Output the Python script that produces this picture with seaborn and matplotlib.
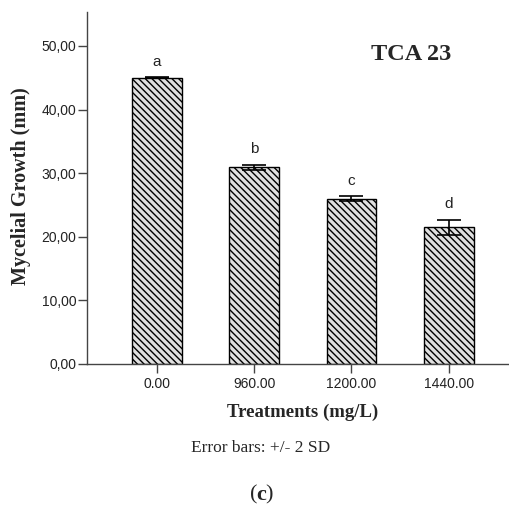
import matplotlib
matplotlib.use("Agg")
import matplotlib.pyplot as plt
import seaborn as sns
import pandas as pd

treatments = ["0.00", "960.00", "1200.00", "1440.00"]
growth = [45.0, 30.9, 26.0, 21.5]
err_2sd = [0.05, 0.45, 0.4, 1.2]
letters = ["a", "b", "c", "d"]
yticks = [0, 10, 20, 30, 40, 50]
ytick_labels = ["0,00", "10,00", "20,00", "30,00", "40,00", "50,00"]

df = pd.DataFrame({"Treatment": treatments, "Growth": growth})

sns.set_style("white")
plt.rcParams["hatch.linewidth"] = 1.0
plt.rcParams["hatch.color"] = "#2a2a2a"

fig = plt.figure(figsize=(5.09, 5.09), dpi=100)
ax = fig.add_axes([0.171, 0.285, 0.829, 0.691])

hatch = "\\" * 5
sns.barplot(data=df, x="Treatment", y="Growth", order=treatments, errorbar=None,
            color="#e0e0e0", width=0.51, edgecolor="black", linewidth=1.0,
            ax=ax, saturation=1)
for p in ax.patches:
    p.set_hatch(hatch)
    p.set_facecolor("#e0e0e0")

xs = list(range(len(treatments)))
ax.errorbar(xs, growth, yerr=err_2sd, fmt="none", ecolor="black",
            elinewidth=1.2, capsize=8.5, capthick=1.2, zorder=5)

for x, v, e, l in zip(xs, growth, err_2sd, letters):
    ax.text(x, v + e + 1.3, l, ha="center", va="bottom", fontsize=11,
            family="Liberation Sans", color="#222222")

ax.set_xlim(-0.72, 3.62)
ax.set_ylim(0, 55.3)
ax.set_yticks(yticks)
ax.set_yticklabels(ytick_labels, family="Liberation Sans", fontsize=10, color="#222222")
ax.set_xticks(xs)
ax.set_xticklabels(treatments, family="Liberation Sans", fontsize=10, color="#222222")
ax.tick_params(axis="both", direction="out", length=6.5, width=1, color="#444444",
               left=True, bottom=True)
ax.tick_params(axis="x", pad=3)
ax.tick_params(axis="y", pad=1)

for s in ["top", "right"]:
    ax.spines[s].set_visible(False)
for s in ["left", "bottom"]:
    ax.spines[s].set_color("#444444")
    ax.spines[s].set_linewidth(1.0)

ax.set_xlabel("")
ax.set_ylabel("")
fig.text(0.595, 0.19, "Treatments (mg/L)", ha="center", va="center",
         family="Liberation Serif", fontweight="bold", fontsize=13.5)
fig.text(0.041, 0.634, "Mycelial Growth (mm)", ha="center", va="center", rotation=90,
         family="Liberation Serif", fontweight="bold", fontsize=14.5)
fig.text(0.808, 0.892, "TCA 23", ha="center", va="center",
         family="Liberation Serif", fontweight="bold", fontsize=17.5)
fig.text(0.512, 0.12, "Error bars: +/- 2 SD", ha="center", va="center",
         family="Liberation Serif", fontsize=12.5)
fig.text(0.498, 0.027, "(", ha="center", va="center",
         family="Liberation Serif", fontsize=16)
fig.text(0.514, 0.027, "c", ha="center", va="center",
         family="Liberation Serif", fontsize=16, fontweight="bold")
fig.text(0.529, 0.027, ")", ha="center", va="center",
         family="Liberation Serif", fontsize=16)

fig.savefig("out.png", dpi=100)
